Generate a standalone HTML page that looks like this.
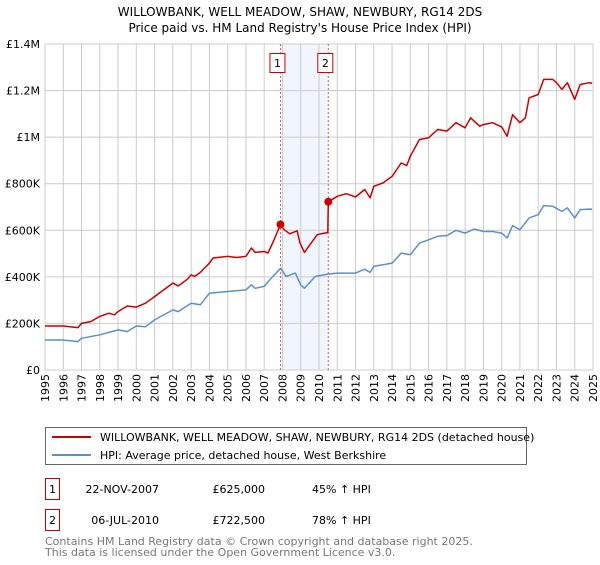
<!DOCTYPE html>
<html><head><meta charset="utf-8"><style>
body{margin:0;background:#fff;font-family:"Liberation Sans","DejaVu Sans",sans-serif;}
svg text{font-family:"DejaVu Sans","Liberation Sans",sans-serif;}
</style></head><body>
<svg id="chart" width="600" height="560" viewBox="0 0 600 560" xmlns="http://www.w3.org/2000/svg">
<text x="300" y="16" text-anchor="middle" font-size="12">WILLOWBANK, WELL MEADOW, SHAW, NEWBURY, RG14 2DS</text>
<text x="300" y="32" text-anchor="middle" font-size="12">Price paid vs. HM Land Registry's House Price Index (HPI)</text>
<g id="grid"></g><g id="marks"></g><g id="axes"></g>
<g>
<rect x="45.5" y="427.5" width="481" height="37" fill="#fff" stroke="#666"/>
<line x1="52" y1="437" x2="91" y2="437" stroke="#cc0000" stroke-width="2"/>
<text x="100" y="441" font-size="11">WILLOWBANK, WELL MEADOW, SHAW, NEWBURY, RG14 2DS (detached house)</text>
<line x1="52" y1="455" x2="91" y2="455" stroke="#5b8fd4" stroke-width="2"/>
<text x="100" y="459" font-size="11">HPI: Average price, detached house, West Berkshire</text>
</g>
<g font-size="11">
<rect x="45.5" y="478.5" width="14" height="21" fill="#fff" stroke="#cc0000"/>
<text x="52.5" y="493" text-anchor="middle">1</text>
<text x="159" y="493" text-anchor="end">22-NOV-2007</text>
<text x="265" y="493" text-anchor="end">£625,000</text>
<text x="312" y="493">45% ↑ HPI</text>
<rect x="45.5" y="509.5" width="14" height="21" fill="#fff" stroke="#cc0000"/>
<text x="52.5" y="524" text-anchor="middle">2</text>
<text x="159" y="524" text-anchor="end">06-JUL-2010</text>
<text x="265" y="524" text-anchor="end">£722,500</text>
<text x="312" y="524">78% ↑ HPI</text>
</g>
<text x="45" y="545" font-size="11" fill="#777">Contains HM Land Registry data © Crown copyright and database right 2025.</text>
<text x="45" y="556" font-size="11" fill="#777">This data is licensed under the Open Government Licence v3.0.</text>
</svg>
<script>
const yTicks=[0,200000,400000,600000,800000,1000000,1200000,1400000];
const yTickLabels=["£0","£200K","£400K","£600K","£800K","£1M","£1.2M","£1.4M"];
const years=[1995,1996,1997,1998,1999,2000,2001,2002,2003,2004,2005,2006,2007,2008,2009,2010,2011,2012,2013,2014,2015,2016,2017,2018,2019,2020,2021,2022,2023,2024,2025];
const saleDates=[2007.89,2010.51];
const saleValues=[625000,722500];
const saleLabels=["1","2"];
const redT=[1995,1996,1996.8,1997,1997.5,1998,1998.5,1998.8,1999,1999.5,2000,2000.5,2001,2001.5,2002,2002.3,2002.8,2003,2003.2,2003.5,2004,2004.2,2005,2005.5,2006,2006.3,2006.5,2007,2007.2,2007.5,2007.89,2008.1,2008.4,2008.8,2008.96,2009.2,2009.9,2010.3,2010.48,2010.51,2011,2011.5,2012,2012.5,2012.8,2013,2013.5,2014,2014.5,2014.8,2015,2015.5,2016,2016.5,2017,2017.5,2018,2018.3,2018.8,2019,2019.5,2020,2020.3,2020.6,2021,2021.3,2021.5,2022,2022.3,2022.8,2023,2023.3,2023.6,2024,2024.3,2024.8,2024.95];
const redV=[189000,189000,182000,200000,208000,230000,244000,237000,251000,275000,270000,287000,315000,344000,373000,361000,390000,409000,402000,419000,459000,481000,488000,483000,488000,524000,505000,509000,502000,552000,625000,602000,585000,598000,545000,505000,581000,588000,590000,722500,746000,757000,743000,775000,739000,789000,803000,832000,889000,878000,918000,990000,997000,1033000,1026000,1062000,1040000,1083000,1047000,1054000,1062000,1044000,1004000,1097000,1062000,1083000,1169000,1183000,1248000,1248000,1234000,1205000,1234000,1162000,1226000,1234000,1232000];
const blueT=[1995,1996,1996.8,1997,1998,1999,1999.5,2000,2000.5,2001,2002,2002.3,2003,2003.5,2004,2005,2006,2006.3,2006.5,2007,2007.3,2007.9,2008.2,2008.7,2009,2009.2,2009.8,2010.5,2011,2012,2012.5,2012.8,2013,2014,2014.5,2015,2015.5,2016,2016.5,2017,2017.5,2018,2018.5,2019,2019.5,2020,2020.3,2020.6,2021,2021.5,2022,2022.3,2022.8,2023.3,2023.6,2024,2024.3,2024.8,2024.95];
const blueV=[129000,129000,122000,136000,151000,172000,165000,189000,186000,215000,258000,251000,287000,280000,330000,337000,344000,366000,351000,359000,387000,437000,402000,416000,366000,351000,402000,412000,416000,416000,433000,419000,445000,459000,502000,495000,545000,559000,574000,577000,600000,588000,605000,595000,595000,588000,567000,620000,602000,653000,667000,706000,703000,681000,696000,653000,689000,691000,690000];
const L=45,R=593,T=44,B=370;
const X=t=>L+(t-1995)/(2025-1995)*(R-L);
const Y=v=>B-v/1400000*(B-T);
const NS="http://www.w3.org/2000/svg";
function mk(tag,attrs,parent){const e=document.createElementNS(NS,tag);for(const k in attrs)e.setAttribute(k,attrs[k]);document.getElementById(parent).appendChild(e);return e;}
// shaded region
let sh=mk('rect',{x:X(saleDates[0]),y:T,width:X(saleDates[1])-X(saleDates[0]),height:B-T,fill:'#eef3fc',opacity:'0.8'},'grid');


years.forEach(yr=>{const l=mk('line',{x1:X(yr),x2:X(yr),y1:T,y2:B,stroke:'#cccccc','stroke-width':1},'grid');


const tx=mk('text',{x:0,y:0,'font-size':11,'text-anchor':'end',transform:`translate(${X(yr)+4},374) rotate(-90)`},'axes');tx.textContent=yr;

});
yTicks.forEach((v,i)=>{const l=mk('line',{x1:L,x2:R,y1:Y(v),y2:Y(v),stroke:'#cccccc','stroke-width':1},'grid');


const tx=mk('text',{x:40,y:Y(v)+4,'font-size':11,'text-anchor':'end'},'axes');tx.textContent=yTickLabels[i];

});
let bd=mk('rect',{x:L,y:T,width:R-L,height:B-T,fill:'none',stroke:'#cccccc'},'grid');


saleDates.forEach((d,i)=>{const l=mk('line',{x1:X(d),x2:X(d),y1:T,y2:B,stroke:'#e06060','stroke-dasharray':'2,2','stroke-width':1},'marks');


const r=mk('rect',{x:X(d)-10.5,y:53.5,width:15,height:19,fill:'#fff',stroke:'#cc0000'},'marks');


const t=mk('text',{x:X(d)-3,y:67,'font-size':11,'text-anchor':'middle'},'marks');t.textContent=saleLabels[i];

});
function path(ts,vs){return ts.map((t,i)=>(i?'L':'M')+X(t).toFixed(1)+','+Y(vs[i]).toFixed(1)).join('');}
const pb=mk('path',{d:path(blueT,blueV),fill:'none',stroke:'#5b8fd4','stroke-width':1.5,'stroke-linejoin':'round'},'marks');


const pr=mk('path',{d:path(redT,redV),fill:'none',stroke:'#cc0000','stroke-width':1.5,'stroke-linejoin':'round'},'marks');


saleDates.forEach((d,i)=>{const c=mk('circle',{cx:X(d),cy:Y(saleValues[i]),r:4,fill:'#cc0000'},'marks');

});
</script>
</body></html>
